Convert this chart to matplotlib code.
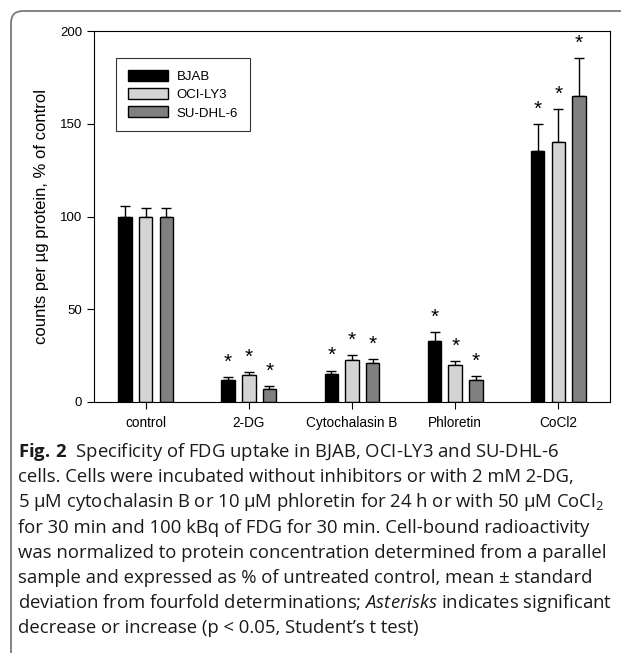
import numpy as np
import matplotlib
matplotlib.use('Agg')
from matplotlib import pyplot as plt
from matplotlib import patches, transforms

plt.rcParams['font.family'] = ['Liberation Sans', 'DejaVu Sans']
plt.rcParams['mathtext.fontset'] = 'custom'
plt.rcParams['mathtext.rm'] = 'Open Sans'
plt.rcParams['mathtext.it'] = 'Open Sans:italic'
plt.rcParams['mathtext.bf'] = 'Open Sans:bold'

# data
categories = ['control', '2-DG', 'Cytochalasin B', 'Phloretin', 'CoCl2']
series = ['BJAB', 'OCI-LY3', 'SU-DHL-6']
bjab = [100, 12.0, 15.1, 33.0, 135.4]
oci = [100, 14.7, 22.8, 19.7, 140.4]
sudhl = [100, 7.2, 21.0, 12.0, 165.2]
bjab_err = [5.4, 1.3, 1.8, 4.9, 14.3]
oci_err = [4.5, 1.3, 2.5, 2.4, 17.6]
sudhl_err = [4.5, 1.2, 2.3, 2.0, 20.3]
# asterisk shown (not for control)
signif = [False, True, True, True, True]

caption = [
    '$\\mathbf{Fig.\\,2}$  Specificity of FDG uptake in BJAB, OCI-LY3 and SU-DHL-6',
    'cells. Cells were incubated without inhibitors or with 2 mM 2-DG,',
    '5 \u00b5M cytochalasin B or 10 \u00b5M phloretin for 24 h or with 50 \u00b5M CoCl$_2$',
    'for 30 min and 100 kBq of FDG for 30 min. Cell-bound radioactivity',
    'was normalized to protein concentration determined from a parallel',
    'sample and expressed as % of untreated control, mean \u00b1 standard',
    'deviation from fourfold determinations; $\\mathit{Asterisks}$ indicates significant',
    'decrease or increase (p < 0.05, Student\u2019s t test)',
]

colors = ['black', '#d4d4d4', '#808080']
W, H = 621, 653
fig = plt.figure(figsize=(W / 100, H / 100), dpi=100)
ax = fig.add_axes([94 / W, 1 - 402 / H, (610 - 94) / W, (402 - 31) / H])

x = np.arange(len(categories))
width = 0.13
offs = [-0.2, 0, 0.2]
for vals, errs, c, off, name in zip([bjab, oci, sudhl], [bjab_err, oci_err, sudhl_err],
                                    colors, offs, series):
    ax.bar(x + off, vals, width, color=c, edgecolor='black', linewidth=1, label=name, zorder=2)
    ax.errorbar(x + off, vals, yerr=[np.zeros(len(vals)), errs], fmt='none',
                ecolor='black', elinewidth=1, capsize=3.5, capthick=1, zorder=1)
    for i in range(len(vals)):
        if signif[i]:
            ax.text(x[i] + off, vals[i] + errs[i] + 8, '*', ha='center', va='center',
                    fontsize=15)

ax.set_xlim(-0.5, 4.5)
ax.set_ylim(0, 200)
ax.set_yticks([0, 50, 100, 150, 200])
ax.set_xticks(x)
ax.set_xticklabels(categories, fontsize=9.8)
ax.tick_params(axis='y', labelsize=9.5, direction='out', length=5, width=0.8)
ax.tick_params(axis='x', direction='out', length=5, width=0.8, pad=5)
ax.set_ylabel('counts per \u00b5g protein, % of control', fontsize=12, labelpad=8)

leg = ax.legend(loc='upper left', bbox_to_anchor=(0.03, 0.945), fontsize=9.5,
                handlelength=3.0, handleheight=0.9, frameon=True, fancybox=False,
                edgecolor='black', borderpad=0.9, labelspacing=0.4, handletextpad=0.7)
leg.get_frame().set_linewidth(0.8)

# outer rounded frame
frame = patches.FancyBboxPatch((11, -60), 700, H - 11 + 60, boxstyle='round,pad=0,rounding_size=12',
                               transform=transforms.IdentityTransform(), fill=False,
                               edgecolor='#7a7a7a', linewidth=1.3)
fig.patches.append(frame)

y0 = 452
for k, line in enumerate(caption):
    fig.text(18 / W, 1 - (y0 + k * 25.2) / H, line, fontsize=13.3, family=['Open Sans', 'DejaVu Sans'],
             va='center', ha='left', color='#1a1a1a')

fig.savefig('out.png', dpi=100)
